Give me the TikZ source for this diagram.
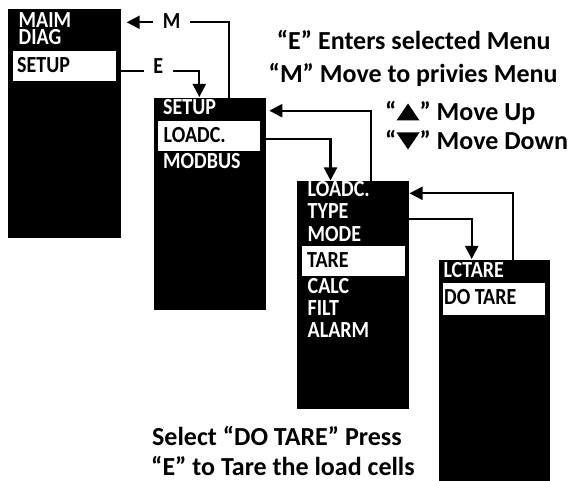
\documentclass[tikz,border=0pt]{standalone}
\usepackage{fontspec}
\setmainfont{Carlito}
\newfontfamily\panelfont[FakeStretch=0.87]{Carlito}
\usetikzlibrary{arrows.meta}
\begin{document}
\begin{tikzpicture}[x=1pt,y=-1pt,
  panel/.style={fill=black, draw=none, inner sep=0pt, anchor=north west},
  hl/.style={fill=white, draw=none, inner sep=0pt, anchor=north west},
  itemw/.style={text=white, font=\panelfont\bfseries\fontsize{23}{16.6}\selectfont, inner sep=0pt, anchor=base west},
  itemb/.style={itemw, text=black},
  note/.style={font=\bfseries\fontsize{26}{30}\selectfont, inner sep=0pt, anchor=base west},
  conn/.style={line width=2.2pt, -{Triangle[length=13pt,width=13pt]}},
  lab/.style={fill=white, font=\panelfont\bfseries\fontsize{23}{23}\selectfont, inner ysep=1pt, inner xsep=9.7pt}]
\useasboundingbox (0,0) rectangle (574,481);
% panels
\node[panel, minimum width=112.5pt, minimum height=229.5pt] (p1) at (8,8.5) {};
\node[panel, minimum width=112pt, minimum height=211.5pt] (p2) at (154,98) {};
\node[panel, minimum width=111.5pt, minimum height=228pt] (p3) at (297,181) {};
\node[panel, minimum width=111.5pt, minimum height=221pt] (p4) at (438.5,260) {};
% highlights
\node[hl, minimum width=103pt, minimum height=30pt] (h1) at (12.7,51) {};
\node[hl, minimum width=102pt, minimum height=30pt] (h2) at (158,120.7) {};
\node[hl, minimum width=102.6pt, minimum height=30pt] (h3) at (301.7,246) {};
\node[hl, minimum width=102.7pt, minimum height=32pt] (h4) at (442.3,282.5) {};
% panel 1 items
\node[itemw, align=left, anchor=north west] (maim) at (18.5,12.5) {MAIM\\DIAG};
\node[itemb] (setup1) at (17,73) {SETUP};
% panel 2 items
\node[itemw] (setup2) at (163,115) {SETUP};
\node[itemb] (loadc2) at (163.5,143) {LOADC.};
\node[itemw] (modbus) at (163,169) {MODBUS};
% panel 3 items
\node[itemw] (loadc3) at (307.5,197) {LOADC.};
\node[itemw] (type) at (307.5,219) {TYPE};
\node[itemw] (mode) at (307.5,242) {MODE};
\node[itemb] (tare) at (307,267.5) {TARE};
\node[itemw] (calc) at (307.5,294) {CALC};
\node[itemw] (filt) at (307.5,316) {FILT};
\node[itemw] (alarm) at (307.5,337.5) {ALARM};
% panel 4 items
\node[itemw] (lctare) at (443.3,277.5) {LCTARE};
\node[itemb] (dotare) at (444,305) {DO TARE};
% connector ends
\coordinate (a1s) at (229.3,98);
\coordinate (a1e) at (126.7,22.3);
\coordinate (a2s) at (120.5,70.7);
\coordinate (a2e) at (199.3,97);
\coordinate (a3s) at (266,139);
\coordinate (a3e) at (330.5,180.5);
\coordinate (a4s) at (371,181);
\coordinate (a4e) at (269.3,110.7);
\coordinate (a5s) at (408.5,219.3);
\coordinate (a5e) at (471.7,259);
\coordinate (a6s) at (512.7,260);
\coordinate (a6e) at (409.5,193.3);
\draw[conn] (a1s) |- (a1e);
\draw[conn] (a2s) -| (a2e);
\draw[conn] (a3s) -| (a3e);
\draw[conn] (a4s) |- (a4e);
\draw[conn] (a5s) -| (a5e);
\draw[conn] (a6s) |- (a6e);
\node[lab] (mlab) at (171.7,20.8) {M};
\node[lab] (elab) at (158.3,66.3) {E};
% notes
\node[note] (n1) at (276.7,50) {“E” Enters selected Menu};
\node[note] (n2) at (268.5,83) {“M” Move to privies Menu};
\node[note] (n3) at (385,120.5) {“\tikz[baseline=0pt]\fill (0pt,0pt)--(23pt,0pt)--(11.5pt,17pt)--cycle;” Move Up};
\node[note] (n4) at (385,149.5) {“\tikz[baseline=0pt]\fill (0pt,17pt)--(23pt,17pt)--(11.5pt,0pt)--cycle;” Move Down};
\node[note] (n5) at (152,446) {Select “DO TARE” Press};
\node[note] (n6) at (151,475.5) {“E” to Tare the load cells};
\end{tikzpicture}
\end{document}
